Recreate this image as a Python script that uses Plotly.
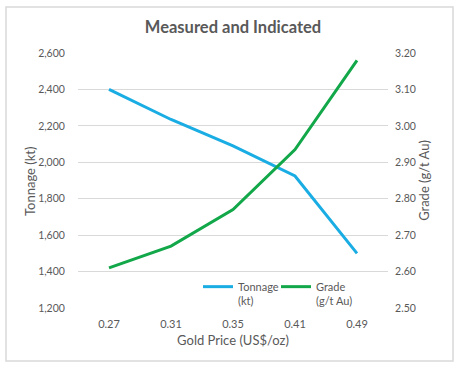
import plotly.graph_objects as go

categories = ["0.27", "0.31", "0.35", "0.41", "0.49"]
tonnage_kt = [2400, 2235, 2090, 1925, 1500]
grade_gt = [2.61, 2.67, 2.77, 2.935, 3.18]

W, H = 463, 372
L, R, T, B = 78, 75, 53, 64
pw, ph = W - L - R, H - T - B

def px(x):
    return (x - L) / pw

def py(y):
    return (H - B - y) / ph

fig = go.Figure()
fig.add_trace(go.Scatter(x=categories, y=tonnage_kt, name="Tonnage<br>(kt)", mode="lines",
                         line=dict(color="#1AADE4", width=3), yaxis="y"))
fig.add_trace(go.Scatter(x=categories, y=grade_gt, name="Grade<br>(g/t Au)", mode="lines",
                         line=dict(color="#12A84A", width=3), yaxis="y2"))

font_family = "Lato, 'Open Sans', sans-serif"
gray = "#595959"

fig.update_layout(
    width=W, height=H,
    margin=dict(l=L, r=R, t=T, b=B, autoexpand=False),
    paper_bgcolor="white", plot_bgcolor="white",
    font=dict(family=font_family, color=gray, size=11),
    title=dict(text="<b>Measured and Indicated</b>", x=0.5, xref="paper", xanchor="center",
               y=1 - 27 / H, yanchor="middle", font=dict(size=16.5, color=gray)),
    xaxis=dict(type="category", showgrid=False, zeroline=False, showline=False,
               ticks="outside", ticklen=6, tickcolor="rgba(0,0,0,0)",
               title=dict(text="Gold Price (US$/oz)", font=dict(size=13), standoff=6),
               tickfont=dict(size=11), range=[-0.5, 4.5]),
    yaxis=dict(range=[1200, 2600], dtick=200, tickformat=",", showgrid=True, gridcolor="#D9D9D9",
               gridwidth=1, zeroline=False, showline=False, tickfont=dict(size=10.5),
               ticks="outside", ticklen=10, tickcolor="rgba(0,0,0,0)"),
    yaxis2=dict(range=[2.5, 3.2], dtick=0.1, tickformat=".2f", overlaying="y", side="right",
                showgrid=False, zeroline=False, showline=False, tickfont=dict(size=10.5),
                ticks="outside", ticklen=4, tickcolor="rgba(0,0,0,0)",
                title=dict(text="Grade (g/t Au)", font=dict(size=13), standoff=4)),
    legend=dict(orientation="h", x=px(198), y=py(273), xanchor="left", yanchor="top",
                valign="top", bgcolor="rgba(0,0,0,0)", font=dict(size=11),
                itemwidth=30, tracegroupgap=0, entrywidth=33, entrywidthmode="pixels"),
    showlegend=True,
)

fig.add_annotation(text="Tonnage (kt)", xref="paper", yref="paper", x=px(30), y=py(181),
                   xanchor="center", yanchor="middle", textangle=-90, showarrow=False,
                   font=dict(size=13, color=gray))

fig.add_shape(type="rect", xref="paper", yref="paper",
              x0=px(6), x1=px(453), y0=py(361), y1=py(7),
              line=dict(color="#D9D9D9", width=1.5), fillcolor="rgba(0,0,0,0)", layer="above")

fig.write_html("out.html", config={"displayModeBar": False},
               post_script="document.body.style.margin='0px';")
